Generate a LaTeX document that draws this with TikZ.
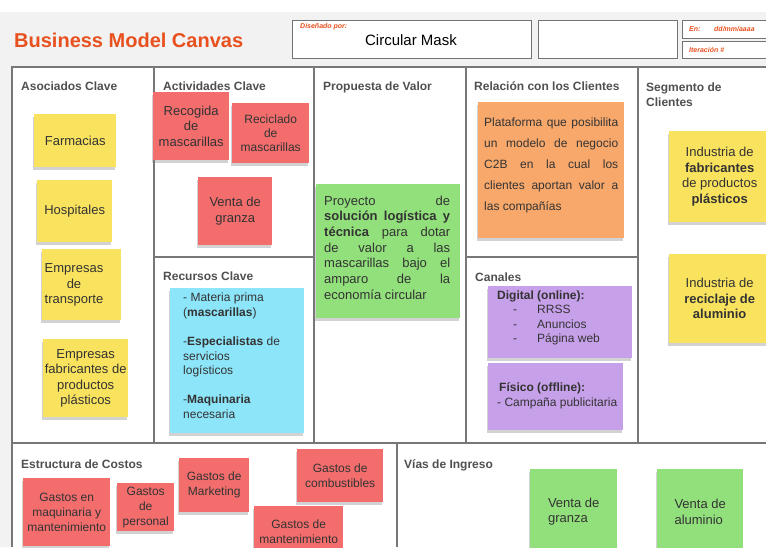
\documentclass[tikz,border=0pt]{standalone}
\usepackage{fontspec}
\setmainfont{Liberation Sans}
\usetikzlibrary{shadows}
\definecolor{bandgray}{HTML}{F2F2F2}
\definecolor{linegray}{HTML}{777777}
\definecolor{headgray}{HTML}{505050}
\definecolor{notetxt}{HTML}{333333}
\definecolor{bmcorange}{HTML}{E8501E}
\definecolor{pyellow}{HTML}{F9E25E}
\definecolor{pred}{HTML}{F46D6D}
\definecolor{pgreen}{HTML}{92E07B}
\definecolor{pcyan}{HTML}{8DE5FA}
\definecolor{porange}{HTML}{F9A86B}
\definecolor{ppurple}{HTML}{C7A0EA}
\newcommand\jl[1]{\makebox[126pt][s]{#1}}
\newcommand\jr[1]{\makebox[134pt][s]{#1}}

\begin{document}
\begin{tikzpicture}[x=1pt,y=-1pt,
  note/.style={anchor=north west, inner sep=0pt, align=center, text=notetxt,
    font=\fontsize{13}{15.5}\selectfont,
    drop shadow={shadow xshift=-1pt, shadow yshift=-2.5pt, opacity=.35}},
  notesm/.style={note, font=\fontsize{12}{15}\selectfont},
  notetext/.style={inner sep=0pt, align=center, text=notetxt, font=\fontsize{13}{15.5}\selectfont},
  head/.style={anchor=base west, inner sep=0pt, text=headgray, font=\fontsize{12}{15}\selectfont\bfseries},
  txt/.style={anchor=north west, inner sep=0pt, align=left, text=notetxt, font=\fontsize{12}{14.7}\selectfont},
  hbox/.style={anchor=north west, draw=black!55, fill=white, line width=.8pt, inner sep=0pt},
  orangetag/.style={anchor=west, inner sep=0pt, text=bmcorange, font=\fontsize{7}{8}\selectfont\bfseries\itshape},
  cell/.style={draw=linegray, line width=1.6pt}]
\useasboundingbox (0,0) rectangle (766,547);
\clip (0,0) rectangle (766,547);
\fill[bandgray] (0,12) rectangle (766,547);
\fill[white] (12,67) rectangle (766,547);

\node[anchor=base west, inner sep=0pt, text=bmcorange, font=\fontsize{20}{24}\selectfont\bfseries] (bmc) at (14,47) {Business Model Canvas};
\node[hbox, minimum width=239pt, minimum height=38pt] (dis) at (292,20) {};
\node[hbox, minimum width=139pt, minimum height=38pt] (blank) at (538,20) {};
\node[hbox, minimum width=90pt, minimum height=18pt] (fecha) at (682,20) {};
\node[hbox, minimum width=90pt, minimum height=17pt] (iter) at (682,41) {};
\node[orangetag] (disl) at (300,26.5) {Diseñado por:};
\node[inner sep=0pt, font=\fontsize{15}{18}\selectfont] (cm) at (411,40) {Circular Mask};
\node[orangetag] (enl) at (689,29) {En:};
\node[orangetag] (ddl) at (714,29) {dd/mm/aaaa};
\node[orangetag] (itl) at (689,50) {Iteración \#};

\draw[cell] (12,547) -- (12,67) -- (766,67);
\draw[cell] (154,67) -- (154,443);
\draw[cell] (314,67) -- (314,443);
\draw[cell] (466,67) -- (466,443);
\draw[cell] (638,67) -- (638,443);
\draw[cell] (154,257) -- (314,257);
\draw[cell] (466,257) -- (638,257);
\draw[cell] (12,443) -- (766,443);
\draw[cell] (397,443) -- (397,547);

\node[head] (h1) at (21,90.5) {Asociados Clave};
\node[head] (h2) at (163,90.5) {Actividades Clave};
\node[head] (h3) at (323,90.5) {Propuesta de Valor};
\node[head] (h4) at (474,90.5) {Relación con los Clientes};
\node[head] (h5a) at (646,91.5) {Segmento de};
\node[head] (h5b) at (646,106.5) {Clientes};
\node[head] (h6) at (163,280) {Recursos Clave};
\node[head] (h7) at (475,281.5) {Canales};
\node[head] (h8) at (21,468) {Estructura de Costos};
\node[head] (h9) at (404,468) {Vías de Ingreso};

\node[note, fill=pyellow, minimum width=82pt, minimum height=53pt] (as1) at (34,114) {Farmacias};
\node[note, fill=pyellow, minimum width=75pt, minimum height=62pt] (as2) at (37,180) {Hospitales};
\node[note, fill=pyellow, minimum width=79pt, minimum height=71pt] (as3) at (42,249) {};
\node[notetext] (as3t) at (74,285) {Empresas\\de\\transporte};
\node[note, fill=pyellow, minimum width=85pt, minimum height=78pt] (as4) at (43,339) {Empresas\\fabricantes de\\productos\\plásticos};

\node[note, fill=pred, minimum width=76pt, minimum height=68pt] (ac1) at (153,92) {Recogida\\de\\mascarillas};
\node[notesm, fill=pred, minimum width=77pt, minimum height=60pt, font=\fontsize{12}{14}\selectfont] (ac2) at (232,103) {Reciclado\\de\\mascarillas};
\node[note, fill=pred, minimum width=74pt, minimum height=68pt] (ac3) at (198,177) {Venta de\\granza};

\node[note, fill=pcyan, minimum width=134pt, minimum height=145pt] (rc) at (170,288) {};
\node[txt] (rct) at (183,293) {- Materia prima\\(\textbf{mascarillas})\\[14pt]-\textbf{Especialistas} de\\servicios\\logísticos\\[14pt]-\textbf{Maquinaria}\\necesaria};

\node[note, fill=pgreen, minimum width=144pt, minimum height=134pt] (pv) at (316,184) {};
\node[txt, font=\fontsize{13}{15.7}\selectfont] (pvt) at (324,195.5) {\jl{Proyecto de}\\\jl{\textbf{solución logística y}}\\\jl{\textbf{técnica} para dotar}\\\jl{de valor a las}\\\jl{mascarillas bajo el}\\\jl{amparo de la}\\economía circular};

\node[note, fill=porange, minimum width=146pt, minimum height=136pt] (rl) at (478,102) {};
\node[txt, font=\fontsize{12}{21}\selectfont] (rlt) at (484,117.6) {\jr{Plataforma que posibilita}\\\jr{un modelo de negocio}\\\jr{C2B en la cual los}\\\jr{clientes aportan valor a}\\las compañías};

\node[note, fill=ppurple, minimum width=144pt, minimum height=72pt] (cn1) at (488,286) {};
\node[txt, font=\fontsize{12}{14.5}\selectfont] (cn1t) at (497,290.5) {\textbf{Digital (online):}\\\hspace*{16pt}\makebox[24pt][l]{-}RRSS\\\hspace*{16pt}\makebox[24pt][l]{-}Anuncios\\\hspace*{16pt}\makebox[24pt][l]{-}Página web};
\node[note, fill=ppurple, minimum width=135pt, minimum height=67pt] (cn2) at (488,363) {};
\node[txt] (cn2t) at (497,382.4) {\,\textbf{Físico (offline):}\\- Campaña publicitaria};

\node[note, fill=pyellow, minimum width=101pt, minimum height=91pt] (sc1) at (669,131) {Industria de\\\textbf{fabricantes}\\de productos\\\textbf{plásticos}};
\node[note, fill=pyellow, minimum width=101pt, minimum height=89pt] (sc2) at (669,254) {Industria de\\\textbf{reciclaje de}\\\textbf{aluminio}};

\node[notesm, fill=pred, minimum width=87pt, minimum height=68pt] (ec1) at (23,478) {Gastos en\\maquinaria y\\mantenimiento};
\node[notesm, fill=pred, minimum width=57pt, minimum height=48pt] (ec2) at (117,483) {Gastos\\de\\personal};
\node[notesm, fill=pred, minimum width=70pt, minimum height=54pt] (ec3) at (179,458) {Gastos de\\Marketing};
\node[notesm, fill=pred, minimum width=86pt, minimum height=53pt] (ec4) at (297,449) {Gastos de\\combustibles};
\node[notesm, fill=pred, minimum width=89pt, minimum height=51pt] (ec5) at (254,506) {Gastos de\\mantenimiento};

\node[note, fill=pgreen, align=left, minimum width=87pt, minimum height=85pt] (vi1) at (530,469) {Venta de\\granza};
\node[note, fill=pgreen, align=left, minimum width=86pt, minimum height=85pt] (vi2) at (657,469) {Venta de\\aluminio};

\end{tikzpicture}
\end{document}
